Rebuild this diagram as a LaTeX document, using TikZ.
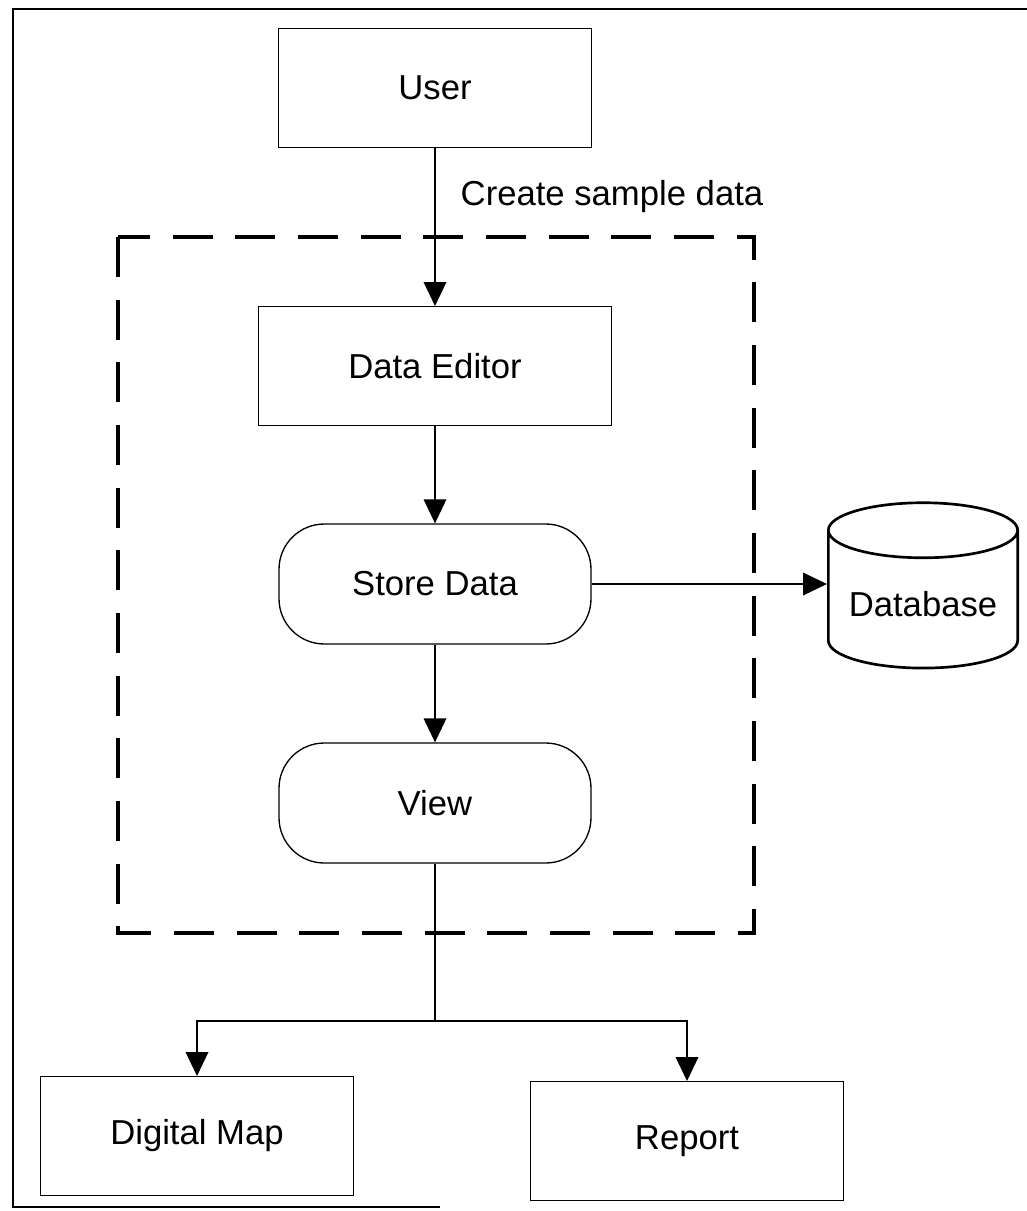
\documentclass[tikz,border=0pt]{standalone}
\usepackage{fontspec}
\setmainfont{Liberation Sans}
\usetikzlibrary{arrows.meta,shapes.geometric}

\tikzset{every picture/.style={line width=0.75pt}}
\tikzset{
  txt/.style={font=\fontsize{26}{31}\selectfont},
  box/.style={txt, draw, line width=1pt, minimum width=235pt, minimum height=89pt},
  pill/.style={txt, draw, line width=1pt, rounded corners=34pt, minimum width=234pt, minimum height=90pt},
  dbase/.style={txt, draw, line width=2pt, cylinder, shape border rotate=90, aspect=0.35, minimum width=142pt, minimum height=124pt},
  flow/.style={line width=1pt, -{Triangle[length=18pt,width=17pt]}},
  groupline/.style={line width=3.6pt, dash pattern=on 30pt off 17pt}
}

\begin{document}
\begin{tikzpicture}[x=0.75pt,y=0.75pt,yscale=-1,xscale=1]
\useasboundingbox (0,0) rectangle (1027,1211);

%Shape: Frame
\draw [line width=2pt] (1027,9) -- (13,9) -- (13,1207) -- (440,1207) ;
%Shape: Dashed Rectangle
\draw [groupline] (118,237) rectangle (754,933) ;

% Nodes
\node [box] (user) at (435,88) {User};
\node [box, minimum width=265pt] (editor) at (435,366) {Data Editor};
\node [pill] (store) at (435,584) {Store Data};
\node [pill] (view) at (435,803) {View};
\node [dbase] (db) at (923,604) {Database};
\node [box] (map) at (197,1136) {Digital Map};
\node [box] (report) at (687,1141) {Report};
% Text Node
\node [txt] (create) at (612,197) {Create sample data};

%Straight Lines
\draw [flow] (user) -- (editor) ;
\draw [flow] (editor) -- (store) ;
\draw [flow] (store) -- (view) ;
\draw [flow] (store.east) -- (store.east -| db.west) ;
\coordinate (fork) at (435,1021) ;
\draw [line width=1pt] (view) -- (fork) ;
\draw [flow] (fork) -| (map) ;
\draw [flow] (fork) -| (report) ;

\end{tikzpicture}
\end{document}
